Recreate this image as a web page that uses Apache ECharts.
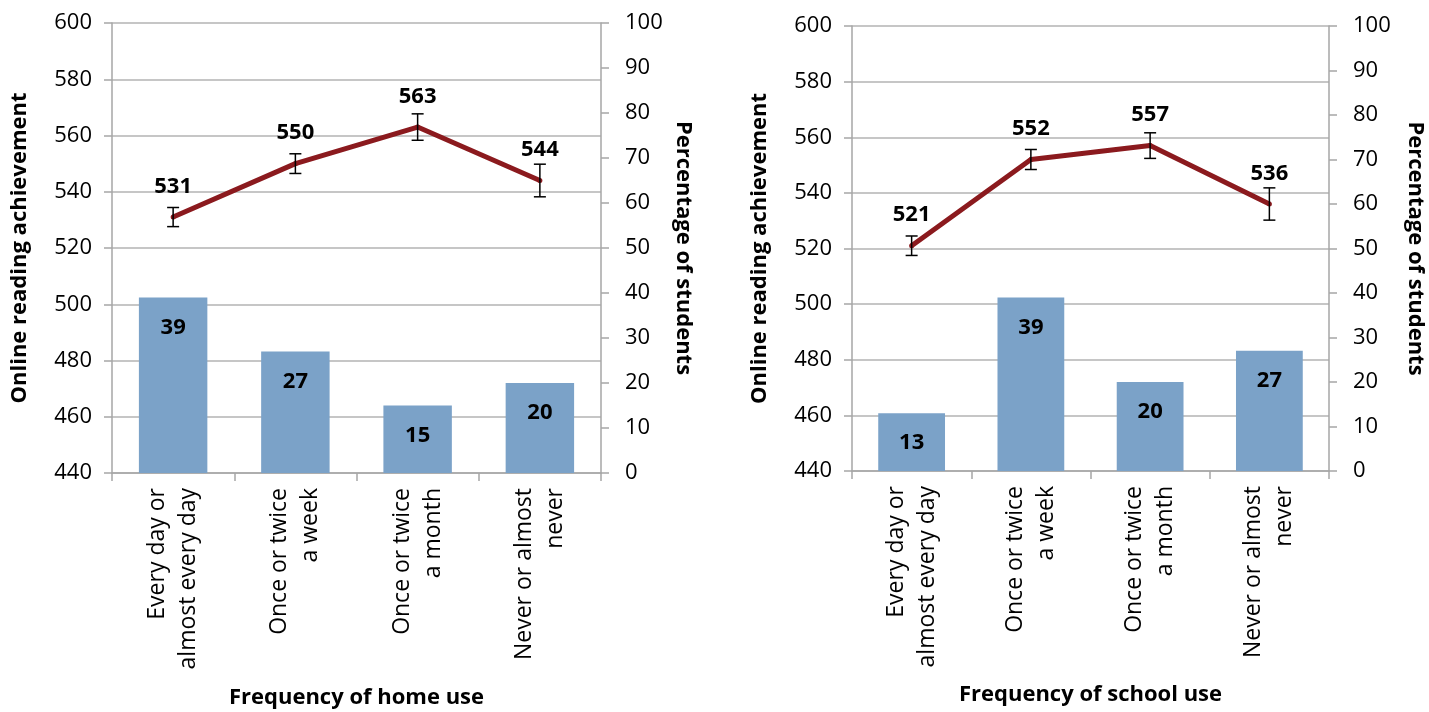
<!DOCTYPE html>
<html>
<head>
<meta charset="utf-8">
<script src="https://cdn.jsdelivr.net/npm/echarts@6/dist/echarts.min.js"></script>
<style>
html, body { margin: 0; padding: 0; background: #fff; }
#chart { width: 1429px; height: 712px; }
</style>
</head>
<body>
<div id="chart"></div>
<script>
var categories = ['Every day or\nalmost every day', 'Once or twice\na week', 'Once or twice\na month', 'Never or almost\nnever'];

// home use
var homeScore = [531, 550, 563, 544];
var homeErr = [3.4, 3.5, 4.7, 5.8];
var homePct = [39, 27, 15, 20];

// school use
var schoolScore = [521, 552, 557, 536];
var schoolErr = [3.5, 3.6, 4.6, 5.8];
var schoolPct = [13, 39, 20, 27];

var scoreMin = 440, scoreMax = 600, scoreStep = 20;
var pctMin = 0, pctMax = 100, pctStep = 10;

var font = '"Open Sans", sans-serif';
var axisGray = '#a6a6a6';
var lineRed = '#8b1a1e';
var barBlue = '#7ba2c8';

var myChart = echarts.init(document.getElementById('chart'));

function errData(score, err) {
    var out = [];
    for (var i = 0; i < score.length; i++) {
        out.push([i, score[i] - err[i], score[i] + err[i]]);
    }
    return out;
}

function renderErr(params, api) {
    var top = api.coord([api.value(0), api.value(2)]);
    var bot = api.coord([api.value(0), api.value(1)]);
    var w = 6;
    var st = { stroke: '#000', lineWidth: 1.5 };
    return {
        type: 'group',
        children: [
            { type: 'line', shape: { x1: top[0], y1: top[1], x2: bot[0], y2: bot[1] }, style: st },
            { type: 'line', shape: { x1: top[0] - w, y1: top[1], x2: top[0] + w, y2: top[1] }, style: st },
            { type: 'line', shape: { x1: bot[0] - w, y1: bot[1], x2: bot[0] + w, y2: bot[1] }, style: st }
        ]
    };
}

function xAxisFor(gridIndex, name, gap) {
    return {
        type: 'category',
        gridIndex: gridIndex,
        data: categories,
        name: name,
        nameLocation: 'middle',
        nameGap: gap,
        nameTextStyle: { fontFamily: font, fontWeight: 'bold', fontSize: 22, color: '#000' },
        axisLine: { lineStyle: { color: axisGray, width: 1.5 } },
        axisTick: { show: true, length: 8, lineStyle: { color: axisGray, width: 1.5 } },
        axisLabel: {
            rotate: 90,
            margin: 15,
            fontFamily: font,
            fontSize: 23,
            lineHeight: 31,
            color: '#000',
            interval: 0
        }
    };
}

function scoreAxis(gridIndex, gap) {
    return {
        type: 'value',
        gridIndex: gridIndex,
        position: 'left',
        min: scoreMin,
        max: scoreMax,
        interval: scoreStep,
        name: 'Online reading achievement',
        nameLocation: 'middle',
        nameGap: gap,
        nameRotate: 90,
        nameTextStyle: { fontFamily: font, fontWeight: 'bold', fontSize: 22, color: '#000' },
        axisLine: { show: true, lineStyle: { color: axisGray, width: 1.5 } },
        axisTick: { show: true, length: 8, lineStyle: { color: axisGray, width: 1.5 } },
        axisLabel: { margin: 20, fontFamily: font, fontSize: 22, color: '#000' },
        splitLine: { show: true, lineStyle: { color: '#b3b3b3', width: 1.5 } }
    };
}

function pctAxis(gridIndex, gap) {
    return {
        type: 'value',
        gridIndex: gridIndex,
        position: 'right',
        min: pctMin,
        max: pctMax,
        interval: pctStep,
        name: 'Percentage of students',
        nameLocation: 'middle',
        nameGap: gap,
        nameRotate: -90,
        nameTextStyle: { fontFamily: font, fontWeight: 'bold', fontSize: 22, color: '#000' },
        axisLine: { show: true, lineStyle: { color: axisGray, width: 1.5 } },
        axisTick: { show: true, length: 8, lineStyle: { color: axisGray, width: 1.5 } },
        axisLabel: { margin: 24, fontFamily: font, fontSize: 22, color: '#000' },
        splitLine: { show: false }
    };
}

function seriesFor(gridIndex, score, err, pct) {
    var xi = gridIndex, ys = gridIndex * 2, yp = gridIndex * 2 + 1;
    return [{
        type: 'bar',
        xAxisIndex: xi,
        yAxisIndex: yp,
        data: pct,
        barWidth: '56%',
        itemStyle: { color: barBlue },
        label: {
            show: true,
            position: 'insideTop',
            distance: 19,
            fontFamily: font,
            fontWeight: 'bold',
            fontSize: 22,
            color: '#000'
        },
        z: 1
    }, {
        type: 'line',
        xAxisIndex: xi,
        yAxisIndex: ys,
        data: score,
        symbol: 'circle',
        symbolSize: 5,
        lineStyle: { color: lineRed, width: 5 },
        itemStyle: { color: lineRed },
        label: {
            show: true,
            position: 'top',
            distance: 17,
            fontFamily: font,
            fontWeight: 'bold',
            fontSize: 22,
            color: '#000'
        },
        z: 3
    }, {
        type: 'custom',
        xAxisIndex: xi,
        yAxisIndex: ys,
        data: errData(score, err),
        renderItem: renderErr,
        z: 4
    }];
}

option = {
    backgroundColor: '#fff',
    animation: false,
    grid: [
        { left: 112, right: 828, top: 23, bottom: 239, containLabel: false, outerBoundsMode: 'none' },
        { left: 852, right: 100, top: 26, bottom: 241, containLabel: false, outerBoundsMode: 'none' }
    ],
    xAxis: [
        xAxisFor(0, 'Frequency of home use', 214),
        xAxisFor(1, 'Frequency of school use', 213)
    ],
    yAxis: [
        scoreAxis(0, 81), pctAxis(0, 71),
        scoreAxis(1, 81), pctAxis(1, 75)
    ],
    series: seriesFor(0, homeScore, homeErr, homePct).concat(seriesFor(1, schoolScore, schoolErr, schoolPct))
};
myChart.setOption(option);
</script>
</body>
</html>
